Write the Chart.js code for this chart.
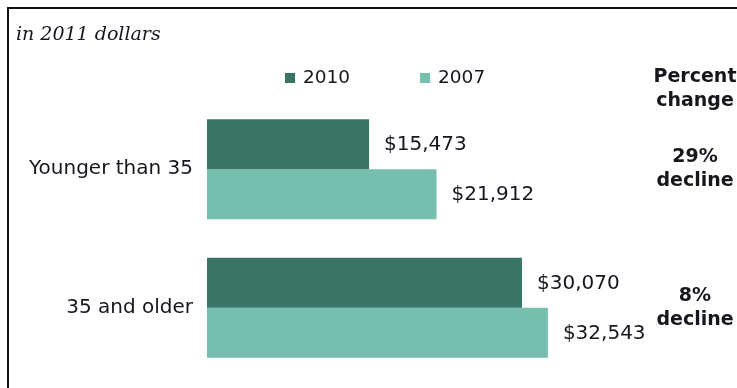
<!DOCTYPE html>
<html>
<head>
<meta charset="utf-8">
<script src="https://cdn.jsdelivr.net/npm/chart.js@4"></script>
<style>
  html, body { margin: 0; padding: 0; background: #fff; }
  #wrap { position: relative; width: 737px; height: 388px; overflow: hidden; }
  #frame { position: absolute; left: 7px; top: 7px; right: 0; bottom: 0;
           border-left: 2px solid #111; border-top: 2px solid #111; }
  canvas { position: absolute; left: 0; top: 0; }
</style>
</head>
<body>
<div id="wrap">
  <div id="frame"></div>
  <canvas id="chart" width="737" height="388"></canvas>
</div>
<script>
// Dữ liệu
const categories = ['Younger than 35', '35 and older'];
const seriesNames = ['2010', '2007'];
const values2010 = [15473, 30070];
const values2007 = [21912, 32543];
const changeHeader = ['Percent', 'change'];
const changeLabels = [['29%', 'decline'], ['8%', 'decline']];
const subtitle = 'in 2011 dollars';

const DARK = '#387565';
const LIGHT = '#76bfaf';
const TEXT = '#16161e';
const FONT = '"DejaVu Sans", Verdana, sans-serif';

function money(v) {
    return '$' + v.toLocaleString('en-US');
}

// Vẽ chữ phụ: tiêu đề, chú thích, nhãn giá trị, cột phần trăm
const extrasPlugin = {
    id: 'extras',
    afterDatasetsDraw(chart) {
        const ctx = chart.ctx;
        const area = chart.chartArea;
        const yScale = chart.scales.y;
        ctx.save();

        // tiêu đề nghiêng
        ctx.fillStyle = TEXT;
        ctx.font = 'italic 19px "DejaVu Serif", Georgia, serif';
        ctx.textAlign = 'left';
        ctx.textBaseline = 'middle';
        ctx.fillText(subtitle, 16, 35);

        // chú thích
        ctx.font = '18.5px ' + FONT;
        let x = 285;
        chart.data.datasets.forEach((ds, i) => {
            ctx.fillStyle = ds.backgroundColor;
            ctx.fillRect(x, 73, 10, 10);
            ctx.fillStyle = TEXT;
            ctx.fillText(ds.label, x + 18, 78);
            x += 18 + ctx.measureText(ds.label).width + 70;
        });

        // nhãn giá trị
        ctx.font = '20px ' + FONT;
        chart.data.datasets.forEach((ds, di) => {
            const meta = chart.getDatasetMeta(di);
            meta.data.forEach((bar, i) => {
                ctx.fillText(money(ds.data[i]), bar.x + 15, bar.y + 1);
            });
        });

        // cột phần trăm thay đổi
        const cx = area.right + 69;
        ctx.font = 'bold 19px ' + FONT;
        ctx.textAlign = 'center';
        ctx.fillText(changeHeader[0], cx, 77);
        ctx.fillText(changeHeader[1], cx, 101);
        changeLabels.forEach((lines, i) => {
            const cy = yScale.getPixelForValue(i);
            ctx.fillText(lines[0], cx, cy - 12);
            ctx.fillText(lines[1], cx, cy + 12);
        });
        ctx.restore();
    }
};

new Chart(document.getElementById('chart'), {
    type: 'bar',
    data: {
        labels: categories,
        datasets: [
            { label: seriesNames[0], data: values2010, backgroundColor: DARK },
            { label: seriesNames[1], data: values2007, backgroundColor: LIGHT }
        ]
    },
    options: {
        indexAxis: 'y',
        responsive: false,
        animation: false,
        events: [],
        layout: { autoPadding: false, padding: { top: 100, bottom: 11, left: 0, right: 111 } },
        datasets: {
            bar: { categoryPercentage: 0.722, barPercentage: 1.0 }
        },
        plugins: {
            legend: { display: false },
            tooltip: { enabled: false }
        },
        scales: {
            x: { display: false, min: 0, max: 40000 },
            y: {
                grid: { display: false, drawTicks: false },
                border: { display: false },
                ticks: {
                    color: TEXT,
                    padding: 14,
                    font: { family: FONT, size: 20 }
                },
                afterFit(scale) {
                    scale.width = 207;
                    // bỏ phần đệm tự động của nhãn
                    scale.paddingTop = 0;
                    scale.paddingBottom = 0;
                }
            }
        }
    },
    plugins: [extrasPlugin]
});
</script>
</body>
</html>
